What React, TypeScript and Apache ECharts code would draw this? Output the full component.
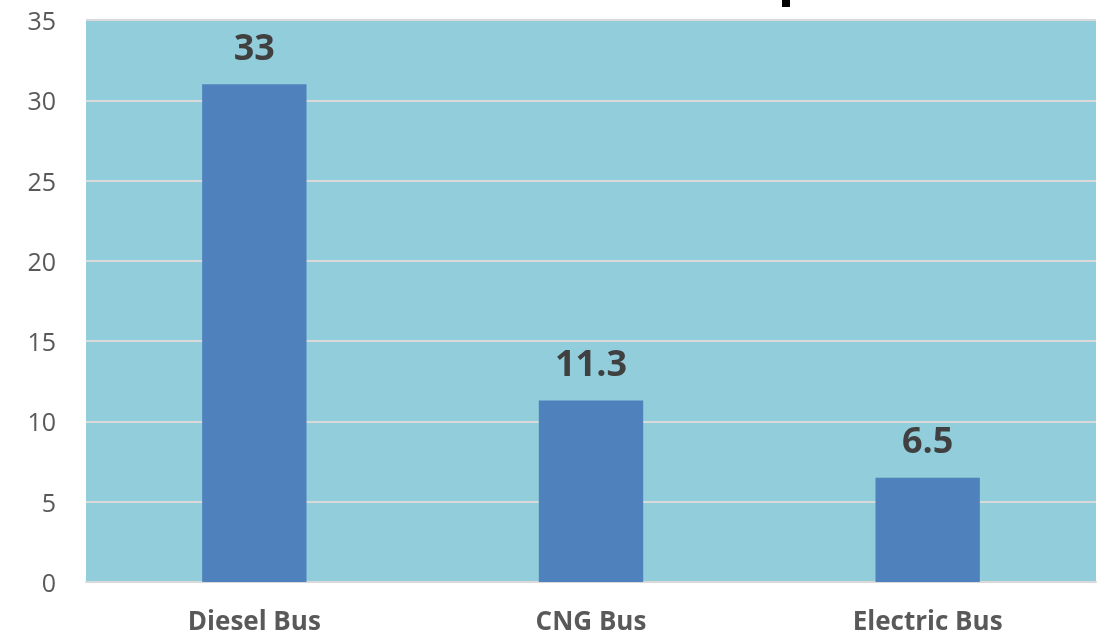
import React, { useEffect, useRef } from "react";
import * as echarts from "echarts";

const categories = ["Diesel Bus", "CNG Bus", "Electric Bus"];
const barValues = [31, 11.3, 6.5];
const labelTexts = ["33", "11.3", "6.5"];

export default function App() {
  const ref = useRef<HTMLDivElement>(null);
  useEffect(() => {
    if (!ref.current) return;
    const chart = echarts.init(ref.current, undefined, { renderer: "svg" });
    chart.setOption({
      animation: false,
      grid: { left: 86, right: 6, top: 20, bottom: 57, containLabel: false, show: true, backgroundColor: "#92CDDC", borderWidth: 0 },
      xAxis: {
        type: "category",
        data: categories,
        axisTick: { show: false },
        axisLine: { lineStyle: { color: "#D9D9D9", width: 2 } },
        axisLabel: { color: "#595959", fontSize: 26, fontWeight: "bold", fontFamily: "Open Sans", margin: 25 },
      },
      yAxis: {
        type: "value",
        min: 0,
        max: 35,
        interval: 5,
        axisLine: { show: false },
        axisTick: { show: false },
        splitLine: { lineStyle: { color: "#D9D9D9", width: 2 } },
        axisLabel: { color: "#595959", fontSize: 25, fontFamily: "Open Sans", margin: 30 },
      },
      graphic: [
        { type: "rect", shape: { x: 782, y: 0, width: 8, height: 7 }, style: { fill: "#000" } },
      ],
      series: [
        {
          type: "bar",
          data: barValues,
          barWidth: "31%",
          itemStyle: { color: "#4F81BD" },
          label: {
            show: true,
            position: "top",
            distance: 20,
            color: "#404040",
            fontSize: 36,
            fontWeight: "bold",
            fontFamily: "Open Sans",
            formatter: (p: any) => labelTexts[p.dataIndex],
          },
        },
      ],
    });
    return () => chart.dispose();
  }, []);
  return <div ref={ref} style={{ position: "fixed", left: 0, top: 0, width: 1102, height: 639 }} />;
}
